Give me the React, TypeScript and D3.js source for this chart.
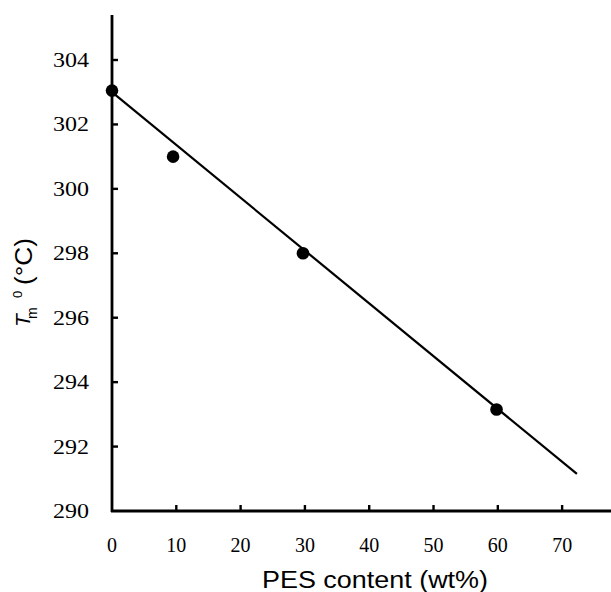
import React from 'react';
import * as d3 from 'd3';

// measured points: PES content (wt%) vs equilibrium melting temperature
const pesContent = [0, 9.5, 29.7, 59.8];
const tmValues = [303.05, 301.0, 298.0, 293.15];

// fitted line end points
const fitX = [0, 72.3];
const fitY = [303.0, 291.15];

const xTicks = [0, 10, 20, 30, 40, 50, 60, 70];
const yTicks = [290, 292, 294, 296, 298, 300, 302, 304];

const App = () => {
    const width = 611;
    const height = 592;
    const margin = { top: 15, right: 0, bottom: 81, left: 112 };

    const x = d3.scaleLinear().domain([0, 77.6]).range([margin.left, width - margin.right]);
    const y = d3.scaleLinear().domain([290, 304]).range([height - margin.bottom, height - margin.bottom - 451]);

    const line = d3.line<number>()
        .x((d, i) => x(fitX[i]))
        .y(d => y(d));

    const serif = '"Liberation Serif", "Times New Roman", serif';
    const sans = '"Liberation Sans", Arial, sans-serif';
    const base = height - margin.bottom;

    return (
        <svg width={width} height={height} style={{ position: 'absolute', left: 0, top: 0, background: '#fff' }}>
            {/* axes */}
            <line x1={x(0)} x2={x(0)} y1={margin.top} y2={base + 1} stroke="#000" strokeWidth={2.8} />
            <line x1={x(0) - 1} x2={width} y1={base} y2={base} stroke="#000" strokeWidth={2.8} />

            {yTicks.map(t => (
                <g key={'y' + t}>
                    {t !== 290 && <line x1={x(0)} x2={x(0) + 6} y1={y(t)} y2={y(t)} stroke="#000" strokeWidth={2.4} />}
                    <text x={53} y={y(t)} dy="0.35em" fontFamily={serif} fontSize={20}
                        textLength={36} lengthAdjust="spacingAndGlyphs">{t}</text>
                </g>
            ))}

            {xTicks.map(t => (
                <g key={'x' + t}>
                    {t !== 0 && <line x1={x(t)} x2={x(t)} y1={base} y2={base - 6} stroke="#000" strokeWidth={2.4} />}
                    <text x={x(t)} y={545} dy="0.35em" textAnchor="middle" fontFamily={serif} fontSize={20}>{t}</text>
                </g>
            ))}

            {/* regression line */}
            <path d={line(fitY) || ''} fill="none" stroke="#000" strokeWidth={2.2} />

            {pesContent.map((p, i) => (
                <circle key={i} cx={x(p)} cy={y(tmValues[i])} r={6.3} fill="#000" />
            ))}

            <text x={262} y={588} fontFamily={sans} fontSize={23}
                textLength={226} lengthAdjust="spacingAndGlyphs">PES content (wt%)</text>

            <g transform="translate(30,327) rotate(-90)" fontFamily={sans}>
                <text x={0} y={0} fontSize={21} fontStyle="italic">T</text>
                <text x={8} y={7} fontSize={14}>m</text>
                <text x={29} y={-8} fontSize={13}>0</text>
                <text x={42} y={2} fontSize={23} textLength={47} lengthAdjust="spacingAndGlyphs">(°C)</text>
            </g>
        </svg>
    );
};

export default App;
